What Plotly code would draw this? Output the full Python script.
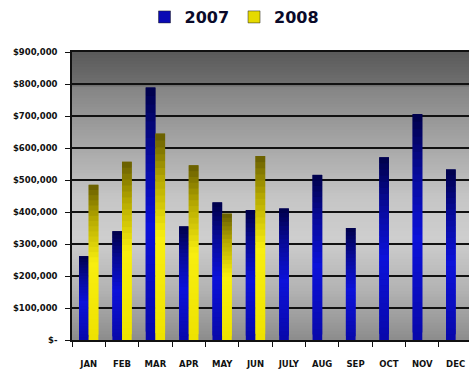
import numpy as np
import plotly.graph_objects as go

months = ["JAN", "FEB", "MAR", "APR", "MAY", "JUN", "JULY", "AUG", "SEP", "OCT", "NOV", "DEC"]
sales_2007 = [262000, 340000, 789000, 355000, 430000, 406000, 411000, 516000, 350000, 571000, 706000, 533000]
sales_2008 = [485000, 557000, 645000, 546000, 395000, 575000, None, None, None, None, None, None]
tick_vals = [0, 100000, 200000, 300000, 400000, 500000, 600000, 700000, 800000, 900000]
tick_text = ["$-", "$100,000", "$200,000", "$300,000", "$400,000", "$500,000",
             "$600,000", "$700,000", "$800,000", "$900,000"]


def hex2rgb(h):
    h = h.lstrip("#")
    return [int(h[i:i + 2], 16) for i in (0, 2, 4)]


def interp(stops, t):
    for (f0, c0), (f1, c1) in zip(stops[:-1], stops[1:]):
        if f0 <= t <= f1:
            a = (t - f0) / (f1 - f0) if f1 > f0 else 0
            r0, r1 = hex2rgb(c0), hex2rgb(c1)
            c = [round(r0[i] + (r1[i] - r0[i]) * a) for i in range(3)]
            return "rgb(%d,%d,%d)" % tuple(c)
    return stops[-1][1]


blue_stops = [(0, "#0808aa"), (0.45, "#0c12da"), (0.75, "#070a96"), (1.0, "#00004a")]
yellow_stops = [(0, "#eee200"), (0.5, "#f8ee10"), (0.78, "#b5a800"), (1.0, "#665c00")]
bg_stops = [(0, "#8c8c8c"), (0.17, "#b2b2b2"), (0.35, "#cecece"), (0.49, "#c6c6c6"),
            (0.67, "#a8a8a8"), (0.88, "#848484"), (0.885, "#707070"), (1.0, "#5a5a5a")]

fig = go.Figure()
NSEG = 30

for name, vals, stops, legcol in [("2007", sales_2007, blue_stops, "#0a0ab4"),
                                  ("2008", sales_2008, yellow_stops, "#e6da00")]:
    v = np.array([np.nan if x is None else x for x in vals], dtype=float)
    for k in range(NSEG):
        t = (k + 0.5) / NSEG
        span = min(2, NSEG - k)  # each segment overlaps the next one by one step
        fig.add_trace(go.Bar(
            x=months, y=v * span / NSEG, base=v * k / NSEG,
            offsetgroup=name, legendgroup=name, showlegend=False,
            marker=dict(color=interp(stops, t), line=dict(width=0)),
            hoverinfo="skip",
        ))
    fig.add_trace(go.Bar(
        x=months, y=[None] * len(months), name=name, offsetgroup=name, legendgroup=name,
        marker=dict(color=legcol, line=dict(color="#222222", width=0.5)),
    ))

NBG = 100
shapes = []
for i in range(NBG):
    t0 = i / NBG
    shapes.append(dict(type="rect", xref="x domain", yref="y domain", x0=0, x1=1,
                       y0=t0, y1=1, layer="below", line=dict(width=0),
                       fillcolor=interp(bg_stops, t0 + 0.5 / NBG)))

fig.update_layout(
    width=469, height=376,
    margin=dict(l=72, r=0, t=52, b=36),
    paper_bgcolor="white", plot_bgcolor="#a0a0a0",
    barmode="group", bargap=0.42, bargroupgap=0,
    shapes=shapes,
    showlegend=True,
    legend=dict(orientation="h", xref="container", yref="container", x=0.5, y=1.0,
                xanchor="center", yanchor="top", itemwidth=30, tracegroupgap=0,
                font=dict(family="DejaVu Sans", size=16, color="#0a0a2a", weight="bold"),
                bgcolor="rgba(0,0,0,0)"),
    xaxis=dict(range=[-0.5, 11.4], showline=True, linecolor="#111111", linewidth=1.5,
               mirror=True, ticks="outside", ticklen=5, tickcolor="#111111", tickwidth=1,
               tickson="boundaries", showgrid=False, ticklabelstandoff=15, tickangle=0,
               tickfont=dict(family="DejaVu Sans", size=8.5, color="#111111", weight="bold")),
    yaxis=dict(range=[0, 900000], tickvals=tick_vals, ticktext=tick_text, showgrid=True,
               gridcolor="#111111", gridwidth=1.5, zeroline=False, showline=True,
               linecolor="#111111", linewidth=1.5, ticks="outside", ticklen=5,
               tickcolor="#111111", ticklabelstandoff=6,
               tickfont=dict(family="DejaVu Sans", size=8.5, color="#111111", weight="bold")),
)

fig.write_html("out.html")
